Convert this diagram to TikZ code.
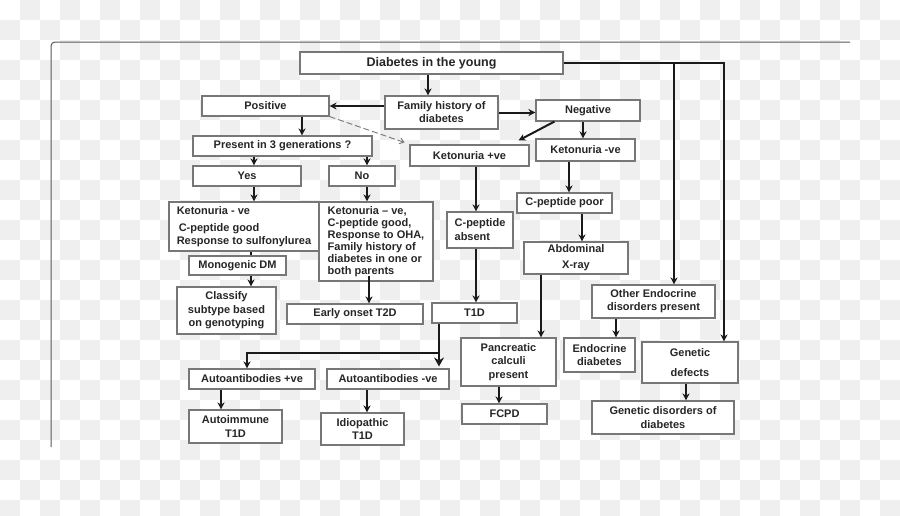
\documentclass[tikz,border=0pt]{standalone}
\usepackage{fontspec}
\setmainfont{Liberation Sans}
\usetikzlibrary{arrows.meta}
\definecolor{chk}{HTML}{EFEFEF}
\definecolor{boxc}{HTML}{777777}
\definecolor{arrc}{HTML}{1A1A1A}
\definecolor{txtc}{HTML}{262626}
\begin{document}
\begin{tikzpicture}[x=1pt,y=-1pt,
  box/.style={draw=boxc,line width=1.1pt,fill=white,inner sep=0pt,text=txtc,
    font=\fontsize{11}{12.5}\selectfont\bfseries,align=center},
  arr/.style={draw=arrc,line width=2pt,-{Stealth[length=7pt,width=7pt]}},
  bigarr/.style={draw=arrc,line width=2pt,-{Stealth[length=9pt,width=10pt,inset=3pt]}},
  plain/.style={draw=arrc,line width=2pt},
  dasharr/.style={draw=boxc,line width=0.9pt,dash pattern=on 6pt off 3pt,-{Straight Barb[length=4pt,width=6pt]}},
  framec/.style={draw=black!65,line width=1pt,rounded corners=4pt}]
\useasboundingbox (0,0) rectangle (900,515);
\begin{scope}
\clip (0,0) rectangle (900,515);
\fill[white] (0,0) rectangle (900,515);
\foreach \i in {0,...,44}{\foreach \j in {0,...,25}{%
  \pgfmathtruncatemacro\k{mod(\i+\j,2)}%
  \ifnum\k=1 \fill[chk] (\i*20,\j*20) rectangle ++(20,20);\fi}}
\end{scope}
\draw[framec] (51,447) -- (51,42) -- (850,42);

\node[box,minimum width=263,minimum height=22,font=\fontsize{12.5}{14}\selectfont\bfseries] (dia) at (431.5,63) {Diabetes in the young};
\node[box,minimum width=113,minimum height=33,font=\fontsize{11}{13}\selectfont\bfseries] (fam) at (441.5,112.5) {Family history of\\diabetes};
\node[box,minimum width=127,minimum height=20] (pos) at (265.5,106) {Positive};
\node[box,minimum width=104,minimum height=21] (neg) at (588,110.5) {Negative};
\node[box,minimum width=179,minimum height=20] (pres) at (282.5,146) {Present in 3 generations ?};
\node[box,minimum width=108,minimum height=20] (yes) at (247,176) {Yes};
\node[box,minimum width=66,minimum height=20] (no) at (362,176) {No};
\node[box,minimum width=119,minimum height=21] (ketp) at (469.5,155.5) {Ketonuria +ve};
\node[box,minimum width=99,minimum height=22] (ketn) at (585.5,150) {Ketonuria -ve};
\node[box,minimum width=150,minimum height=49,align=left] (kl) at (244,226.5) {Ketonuria - ve\\[5pt]\hspace{2pt}C-peptide good\\Response to sulfonylurea};
\node[box,minimum width=114,minimum height=79,align=left,font=\fontsize{11}{12}\selectfont\bfseries] (kr) at (376,241.5) {Ketonuria -- ve,\\C-peptide good,\\Response to OHA,\\Family history of\\diabetes in one or\\both parents};
\node[box,minimum width=97,minimum height=19] (mono) at (237.5,265.5) {Monogenic DM};
\node[box,minimum width=99,minimum height=47,font=\fontsize{11}{13.5}\selectfont\bfseries] (cls) at (226.5,310.5) {Classify\\subtype based\\on genotyping};
\node[box,minimum width=136,minimum height=20] (eot) at (355,314) {Early onset T2D};
\node[box,minimum width=66,minimum height=36,align=left,font=\fontsize{11}{14}\selectfont\bfseries] (cpa) at (480,230) {C-peptide\\absent};
\node[box,minimum width=85,minimum height=20] (t1d) at (474.5,313) {T1D};
\node[box,minimum width=95,minimum height=20] (cpp) at (564.5,203) {C-peptide poor};
\node[box,minimum width=104,minimum height=32,font=\fontsize{11}{16}\selectfont\bfseries] (abd) at (576,258) {Abdominal\\X-ray};
\node[box,minimum width=123,minimum height=33,font=\fontsize{11}{13}\selectfont\bfseries] (oed) at (653.5,301.5) {Other Endocrine\\disorders present};
\node[box,minimum width=95,minimum height=48,font=\fontsize{11}{13.5}\selectfont\bfseries] (pan) at (508.5,362) {Pancreatic\\calculi\\present};
\node[box,minimum width=85,minimum height=20] (fcpd) at (504.5,414) {FCPD};
\node[box,minimum width=71,minimum height=34,font=\fontsize{11}{13}\selectfont\bfseries] (endo) at (599.5,355) {Endocrine\\diabetes};
\node[box,minimum width=96,minimum height=41,font=\fontsize{11}{20}\selectfont\bfseries] (gen) at (690,362.5) {Genetic\\defects};
\node[box,minimum width=142,minimum height=33,font=\fontsize{11}{13.5}\selectfont\bfseries] (gdd) at (663,417.5) {Genetic disorders of\\diabetes};
\node[box,minimum width=126,minimum height=20] (aap) at (252,379) {Autoantibodies +ve};
\node[box,minimum width=122,minimum height=20] (aan) at (388,379) {Autoantibodies -ve};
\node[box,minimum width=93,minimum height=33,font=\fontsize{11}{13.5}\selectfont\bfseries] (ait) at (235.5,426.5) {Autoimmune\\T1D};
\node[box,minimum width=83,minimum height=32,font=\fontsize{11}{13.5}\selectfont\bfseries] (idt) at (362.5,429) {Idiopathic\\T1D};

% connectors
\draw[arr] ([xshift=-13.5]fam.north |- dia.south) -- ([xshift=-13.5]fam.north);
\draw[arr] (fam.west |- pos.east) -- (pos.east);
\draw[arr] (fam.east) -- (neg.west |- fam.east);
\draw[arr] ([xshift=36.5]pos.south) -- ([xshift=36.5]pos.south |- pres.north);
\draw[dasharr] (pos.south east) -- ([xshift=-5,yshift=2]ketp.north west);
\draw[arr] ([xshift=-5]neg.south) -- ([xshift=-5]neg.south |- ketn.north);
\draw[arr] ([xshift=19]neg.south west) -- ([xshift=-11,yshift=4]ketp.north east);
\draw[arr] ([xshift=7]yes.north |- pres.south) -- ([xshift=7]yes.north);
\draw[arr] ([xshift=5]no.north |- pres.south) -- ([xshift=5]no.north);
\draw[arr] ([xshift=10]kl.north |- yes.south) -- ([xshift=10]kl.north);
\draw[arr] ([xshift=-9]kr.north |- no.south) -- ([xshift=-9]kr.north);
\draw[plain] ([xshift=13.5]mono.north |- kl.south) -- ([xshift=13.5]mono.north);
\draw[arr] ([xshift=13.5]mono.south) -- ([xshift=13.5]mono.south |- cls.north);
\draw[arr] ([xshift=-7,yshift=6]kr.south) -- ([xshift=-7]kr.south |- eot.north);
\draw[arr] ([xshift=-4]cpa.north |- ketp.south) -- ([xshift=-4]cpa.north);
\draw[arr] ([xshift=-4]cpa.south) -- ([xshift=-4]cpa.south |- t1d.north);
\draw[arr] ([xshift=4.5]cpp.north |- ketn.south) -- ([xshift=4.5]cpp.north);
\draw[arr] ([xshift=17.5]cpp.south) -- ([xshift=17.5]cpp.south |- abd.north);
\draw[arr] ([xshift=-35]abd.south) -- ([xshift=-35]abd.south |- pan.north);
\draw[arr] (dia.east) -| ([xshift=34]gen.north);
\draw[arr] ([xshift=20.5]oed.north |- dia.east) -- ([xshift=20.5]oed.north);
\draw[arr] ([xshift=-37.5]oed.south) -- ([xshift=-37.5]oed.south |- endo.north);
\draw[arr] ([xshift=-9.5]pan.south) -- ([xshift=-9.5]pan.south |- fcpd.north);
\draw[arr] ([xshift=-4]gen.south) -- ([xshift=-4]gen.south |- gdd.north);
\draw[bigarr] ([xshift=-35.5]t1d.south) -- ([xshift=-35.5,yshift=2]t1d.south |- aan.north);
\draw[arr] ([xshift=-35.5,yshift=-29]t1d.south) -| ([xshift=-5]aap.north);
\draw[arr] ([xshift=-14.5]ait.north |- aap.south) -- ([xshift=-14.5]ait.north);
\draw[arr] ([xshift=-21]aan.south) -- ([xshift=-21]aan.south |- idt.north);
\end{tikzpicture}
\end{document}
